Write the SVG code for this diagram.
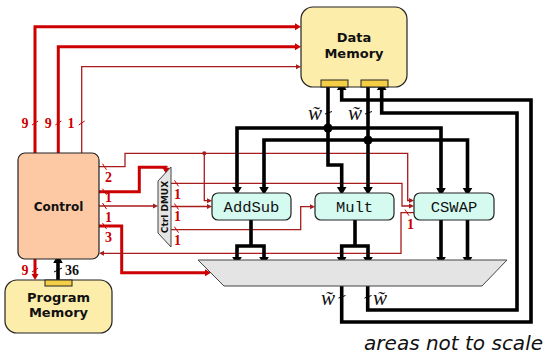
<svg xmlns="http://www.w3.org/2000/svg" width="546" height="354" viewBox="0 0 546 354">
<style>
.mem{fill:#fdedab;stroke:#222;stroke-width:1.2}
.ctl{fill:#fdc8a4;stroke:#222;stroke-width:1.2}
.fu{fill:#d5fbf1;stroke:#222;stroke-width:1.2}
.port{fill:#f4cf45;stroke:#222;stroke-width:1}
.mux{fill:#e4e4e4;stroke:#444;stroke-width:1}
.bt{font-family:"DejaVu Sans",sans-serif;font-weight:bold;text-anchor:middle;fill:#111}
.tt{font-family:"Liberation Mono",monospace;font-size:15.5px;text-anchor:middle;fill:#111}
.lbl{font-family:"Liberation Serif",serif;font-weight:bold;font-size:14px;text-anchor:middle;fill:#cc0000}
.w{font-family:"Liberation Serif",serif;font-style:italic;font-size:21px;text-anchor:middle;fill:#111}
.rk{fill:none;stroke:#cc0000;stroke-width:3}
.rn{fill:none;stroke:#a81c1c;stroke-width:1.3}
.bk{fill:none;stroke:#000;stroke-width:3.6}
.sl{stroke:#cc0000;stroke-width:1}
.slb{stroke:#000;stroke-width:1}
</style>
<defs>
<marker id="ab" viewBox="0 -5 8 10" refX="0" refY="0" markerWidth="8" markerHeight="10" markerUnits="userSpaceOnUse" orient="auto" overflow="visible"><path d="M0,-4.8 L8,0 L0,4.8 z" fill="#000"/></marker>
<marker id="ark" viewBox="0 -4 6 8" refX="0" refY="0" markerWidth="6" markerHeight="8" markerUnits="userSpaceOnUse" orient="auto" overflow="visible"><path d="M0,-3.5 L6,0 L0,3.5 z" fill="#cc0000"/></marker>
<marker id="arn" viewBox="0 -3 5 6" refX="0" refY="0" markerWidth="5" markerHeight="6" markerUnits="userSpaceOnUse" orient="auto" overflow="visible"><path d="M0,-2.5 L5,0 L0,2.5 z" fill="#a81c1c"/></marker>
</defs>

<g id="connectors">
  <!-- control to data memory -->
  <path class="rk" d="M35,153 V26.7 H295" marker-end="url(#ark)"/>
  <path class="rk" d="M58.3,153 V46.7 H295" marker-end="url(#ark)"/>
  <path class="rn" d="M81.7,153 V66.7 H296" marker-end="url(#arn)"/>
  <!-- control to program memory -->
  <path class="rk" d="M35,259 V274" marker-end="url(#ark)"/>
  <!-- control right side -->
  <path class="rn" d="M99,166.7 H125 V153.3 H407.7 V200.5 H409" marker-end="url(#arn)"/>
  <path class="rn" d="M204.3,153.3 V200.7 H207" marker-end="url(#arn)"/>
  <circle cx="204.3" cy="153.3" r="2" fill="#a81c1c"/>
  <path class="rk" d="M99,191.7 H139.3 V167.3 H166 V167.8" marker-end="url(#ark)"/>
  <path class="rn" d="M99,206 H153" marker-end="url(#arn)"/>
  <path class="rk" d="M99,226 H121.7 V272.7 H205" marker-end="url(#ark)"/>
  <path class="rn" d="M414,212.7 H401 V253.3 H104" marker-end="url(#arn)"/>
  <!-- DMUX outputs -->
  <path class="rn" d="M171,183.3 H402 V206 H409" marker-end="url(#arn)"/>
  <path class="rn" d="M171,206.5 H207" marker-end="url(#arn)"/>
  <path class="rn" d="M171,229.7 H300.7 V206.7 H310" marker-end="url(#arn)"/>

  <!-- data memory outputs -->
  <path class="bk" d="M328,87 V165 H341.7 V187" marker-end="url(#ab)"/>
  <path class="bk" d="M368,87 V187" marker-end="url(#ab)"/>
  <path class="bk" d="M237,187 V128 H441 V188"/>
  <path class="bk" d="M264,187 V140 H467.5 V188"/>
  <path d="M237,186 V187" fill="none" stroke="none" marker-end="url(#ab)"/>
  <path d="M264,186 V187" fill="none" stroke="none" marker-end="url(#ab)"/>
  <path d="M441,187 V188" fill="none" stroke="none" marker-end="url(#ab)"/>
  <path d="M467.5,187 V188" fill="none" stroke="none" marker-end="url(#ab)"/>
  <circle cx="328" cy="128" r="4.6" fill="#000"/>
  <circle cx="368" cy="140" r="4.6" fill="#000"/>

  <!-- functional unit outputs to mux -->
  <path class="bk" d="M251,220 V246"/>
  <path class="bk" d="M237,257 V246 H264 V257"/>
  <path d="M237,256 V257" fill="none" stroke="none" marker-end="url(#ab)"/>
  <path d="M264,256 V257" fill="none" stroke="none" marker-end="url(#ab)"/>
  <path class="bk" d="M355,220 V246"/>
  <path class="bk" d="M341.7,257 V246 H368 V257"/>
  <path d="M341.7,256 V257" fill="none" stroke="none" marker-end="url(#ab)"/>
  <path d="M368,256 V257" fill="none" stroke="none" marker-end="url(#ab)"/>
  <path class="bk" d="M441,220 V257" marker-end="url(#ab)"/>
  <path class="bk" d="M467.5,220 V257" marker-end="url(#ab)"/>

  <!-- mux outputs back to data memory -->
  <path class="bk" d="M341.7,286 V322 H531 V100 H341.7 V90" marker-end="url(#ab)"/>
  <path class="bk" d="M367.7,286 V310 H517 V113 H381.7 V90" marker-end="url(#ab)"/>

  <!-- program memory to control -->
  <path class="bk" d="M58,285 V263" marker-end="url(#ab)"/>

  <!-- bus width slashes -->
  <line class="sl" x1="32" y1="125" x2="38" y2="121"/>
  <line class="sl" x1="55.3" y1="125" x2="61.3" y2="121"/>
  <line class="sl" x1="78.7" y1="125" x2="84.7" y2="121"/>
  <line class="sl" x1="32" y1="272" x2="38" y2="268"/>
  <line class="slb" x1="54" y1="272" x2="62" y2="268"/>
  <line class="sl" x1="102.5" y1="163.7" x2="106.5" y2="169.7"/>
  <line class="sl" x1="102.5" y1="188.7" x2="106.5" y2="194.7"/>
  <line class="sl" x1="102.5" y1="203" x2="106.5" y2="209"/>
  <line class="sl" x1="102.5" y1="223" x2="106.5" y2="229"/>
  <line class="sl" x1="174.5" y1="180.3" x2="178.5" y2="186.3"/>
  <line class="sl" x1="174.5" y1="203.5" x2="178.5" y2="209.5"/>
  <line class="sl" x1="174.5" y1="226.7" x2="178.5" y2="232.7"/>
  <line class="sl" x1="405" y1="209.7" x2="409" y2="215.7"/>
  <line class="slb" x1="325" y1="114" x2="332" y2="111.5"/>
  <line class="slb" x1="365" y1="114" x2="372" y2="111.5"/>
  <line class="slb" x1="338.5" y1="298" x2="345.5" y2="295.5"/>
  <line class="slb" x1="364.5" y1="298" x2="371.5" y2="295.5"/>
</g>

<g id="labels">
  <text class="lbl" x="25" y="128">9</text>
  <text class="lbl" x="48.3" y="128">9</text>
  <text class="lbl" x="71" y="128">1</text>
  <text class="lbl" x="25" y="275">9</text>
  <text class="lbl" x="72" y="275" style="fill:#111">36</text>
  <text class="lbl" x="108.5" y="182">2</text>
  <text class="lbl" x="108.5" y="202">1</text>
  <text class="lbl" x="108.5" y="222">1</text>
  <text class="lbl" x="108.5" y="241.5">3</text>
  <text class="lbl" x="177.5" y="199">1</text>
  <text class="lbl" x="177.5" y="221">1</text>
  <text class="lbl" x="177.5" y="244.5">1</text>
  <text class="lbl" x="410.5" y="229">1</text>
  <text class="w" x="315" y="120">w̃</text>
  <text class="w" x="355" y="120">w̃</text>
  <text class="w" x="328" y="305">w̃</text>
  <text class="w" x="380" y="305">w̃</text>
  <text x="543" y="350" style="font-family:'DejaVu Sans',sans-serif;font-style:italic;font-size:20px;text-anchor:end;fill:#111">areas not to scale</text>
</g>

<g id="data-memory">
  <rect class="mem" x="301" y="7" width="106" height="80" rx="12"/>
  <text class="bt" x="354" y="42" font-size="13">Data</text>
  <text class="bt" x="354" y="58" font-size="13">Memory</text>
  <rect class="port" x="321" y="80" width="27" height="7"/>
  <rect class="port" x="361" y="80" width="27" height="7"/>
</g>

<g id="control">
  <rect class="ctl" x="18" y="153" width="81" height="106" rx="7"/>
  <text class="bt" x="58.5" y="211" font-size="12">Control</text>
</g>

<g id="program-memory">
  <rect class="mem" x="5" y="280" width="107" height="53" rx="12"/>
  <rect class="port" x="45" y="280" width="27" height="6"/>
  <text class="bt" x="58.5" y="302" font-size="13">Program</text>
  <text class="bt" x="58.5" y="317" font-size="13">Memory</text>
</g>

<g id="ctrl-dmux">
  <polygon class="mux" points="158,181 171,167 171,247 158,233"/>
  <text class="bt" font-size="9" transform="translate(167.8,207) rotate(-90)">Ctrl DMUX</text>
</g>

<g id="addsub">
  <rect class="fu" x="212" y="193" width="79" height="27" rx="6"/>
  <text class="tt" x="251.5" y="211.5">AddSub</text>
</g>

<g id="mult">
  <rect class="fu" x="315" y="193" width="79" height="27" rx="6"/>
  <text class="tt" x="354.5" y="211.5">Mult</text>
</g>

<g id="cswap">
  <rect class="fu" x="414" y="193" width="80" height="27" rx="6"/>
  <text class="tt" x="454" y="211.5">CSWAP</text>
</g>

<g id="output-mux">
  <polygon class="mux" points="198,260 507,260 482,286 224,286"/>
</g>
</svg>
